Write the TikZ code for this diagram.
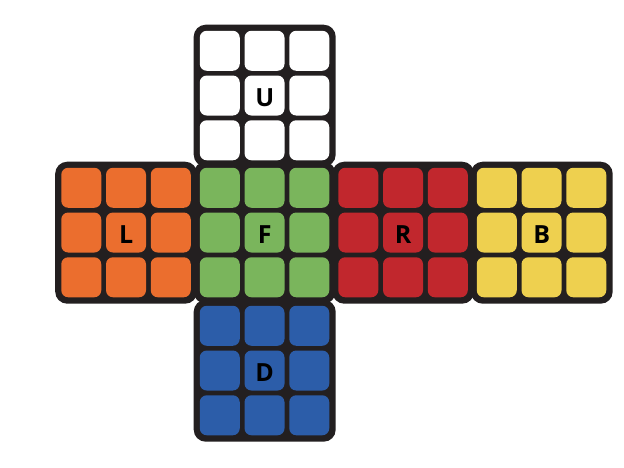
\documentclass[tikz,border=0pt]{standalone}
\usepackage{fontspec}
\setmainfont{Open Sans}
\definecolor{cubedark}{HTML}{231F20}
\definecolor{cubewhite}{HTML}{FFFFFF}
\definecolor{cubeorange}{HTML}{EB6E2E}
\definecolor{cubegreen}{HTML}{7AB55C}
\definecolor{cubered}{HTML}{C1272D}
\definecolor{cubeyellow}{HTML}{EED04F}
\definecolor{cubeblue}{HTML}{2C5DA9}
\tikzset{
  facebox/.style={fill=cubedark, rounded corners=12pt, minimum size=142pt, inner sep=0pt, anchor=north west},
  sticker/.style={rounded corners=7pt},
  facelabel/.style={font=\bfseries\fontsize{25}{25}\selectfont, text=black, inner sep=0pt}
}
\newcommand\cubeface[4]{%
  \node[facebox] (#1) at (#2,#3) {};
  \foreach \i in {0,1,2} {
    \foreach \j in {0,1,2} {
      \fill[#4, sticker] ({#2+6.25+\i*44.75},{#3+6.25+\j*44.75}) rectangle ++(40,40);
    }
  }
  \node[facelabel] (#1lab) at ([yshift=-2pt]#1.center) {#1};
}
\begin{document}
\begin{tikzpicture}[x=1pt,y=-1pt]
\useasboundingbox (0,0) rectangle (624,467);
\fill[white] (0,0) rectangle (624,467);
\cubeface{U}{193.5}{24.5}{cubewhite}
\cubeface{L}{55}{161.5}{cubeorange}
\cubeface{F}{193.5}{161.5}{cubegreen}
\cubeface{R}{332}{161.5}{cubered}
\cubeface{B}{470.5}{161.5}{cubeyellow}
\cubeface{D}{193.5}{299.5}{cubeblue}
\end{tikzpicture}
\end{document}
